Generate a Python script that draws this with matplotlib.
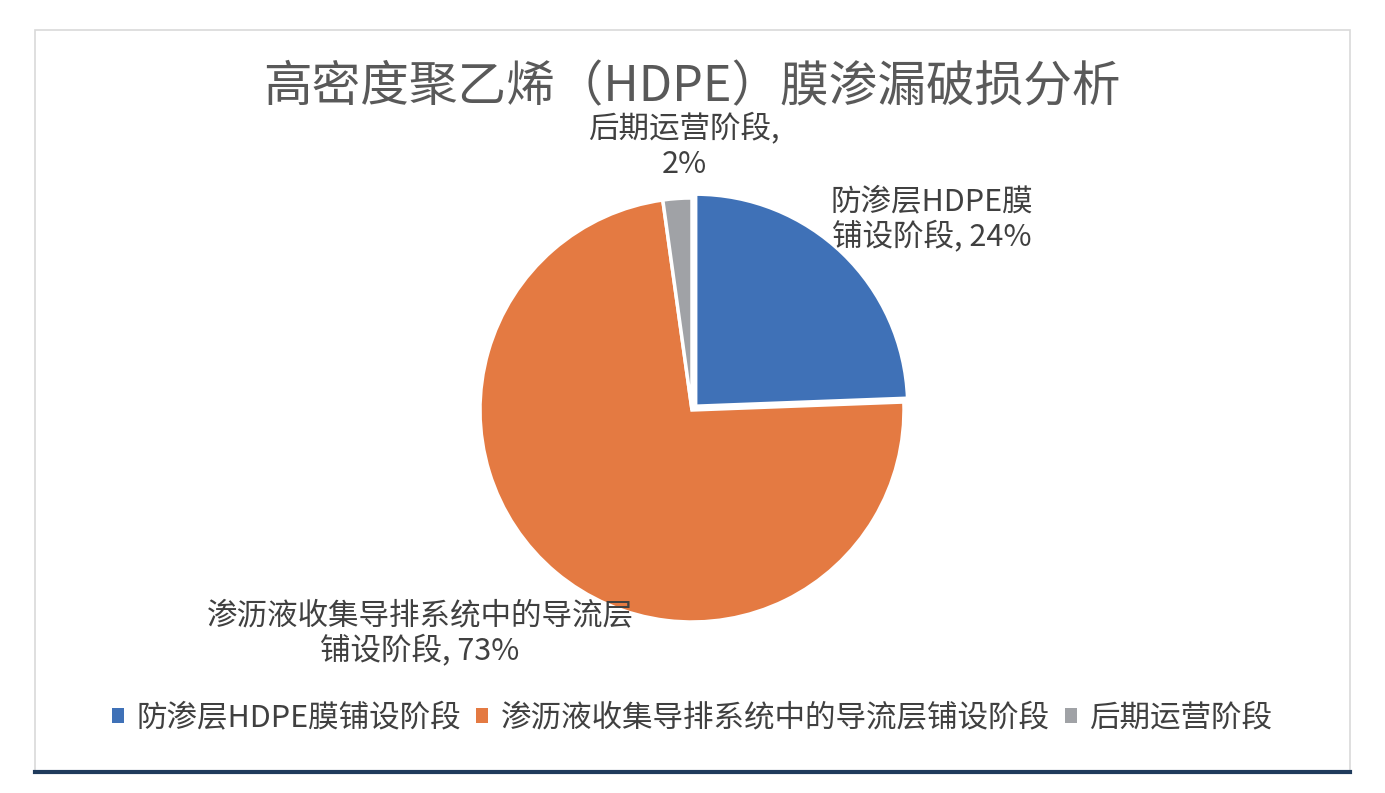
import matplotlib
matplotlib.use("Agg")
import matplotlib.pyplot as plt
from matplotlib.patches import Rectangle
from matplotlib.lines import Line2D

plt.rcParams['font.family'] = ['Noto Sans CJK SC', 'DejaVu Sans']

# data
categories = ['防渗层HDPE膜铺设阶段', '渗沥液收集导排系统中的导流层铺设阶段', '后期运营阶段']
shares = [24.4, 73.4, 2.2]
colors = ['#3F71B7', '#E47A42', '#A0A2A6']
label_text = ['防渗层HDPE膜\n铺设阶段, {:.0f}%', '渗沥液收集导排系统中的导流层\n铺设阶段, {:.0f}%', '后期运营阶段,\n{:.0f}%']
# label anchor points in figure pixels (x, y from top)
label_pos = [(932, 220), (420, 634), (684, 147)]

W, H = 1385, 793
fig = plt.figure(figsize=(W / 100, H / 100), dpi=100)

# chart frame
fig.patches.append(Rectangle((35 / W, 1 - 772 / H), 1315 / W, 742 / H, transform=fig.transFigure,
                             facecolor='white', edgecolor='#D9D9D9', linewidth=1.2, zorder=-1))
fig.lines.append(Line2D([35 / W, 1350 / W], [1 - 772 / H, 1 - 772 / H], transform=fig.transFigure,
                        color='#1F3B5C', linewidth=3))

cx, cy, r = 692, 410, 212
half = 225
ax = fig.add_axes([(cx - half) / W, (H - cy - half) / H, 2 * half / W, 2 * half / H])
ax.set_zorder(2)
ax.pie(shares, colors=colors, startangle=90, counterclock=False, explode=[0.025, 0, 0],
       wedgeprops=dict(edgecolor='white', linewidth=2.5))
ax.set_xlim(-half / r, half / r)
ax.set_ylim(-half / r, half / r)
ax.set_aspect('equal')
ax.axis('off')

for txt, val, (px, py) in zip(label_text, shares, label_pos):
    fig.text(px / W, 1 - py / H, txt.format(val), ha='center', va='center',
             fontsize=22, color='#404040', linespacing=1.15, zorder=3)

fig.text(692 / W, 1 - 88 / H, '高密度聚乙烯（HDPE）膜渗漏破损分析', ha='center', va='center',
         fontsize=35, color='#595959')

handles = [Rectangle((0, 0), 1, 1, facecolor=c) for c in colors]
fig.legend(handles, categories, loc='center', bbox_to_anchor=(692 / W, 1 - 718 / H), ncol=3,
           frameon=False, fontsize=22, handlelength=0.4, handleheight=0.4,
           handletextpad=0.4, columnspacing=0.5, labelcolor='#404040')

fig.savefig('out.png', dpi=100)
